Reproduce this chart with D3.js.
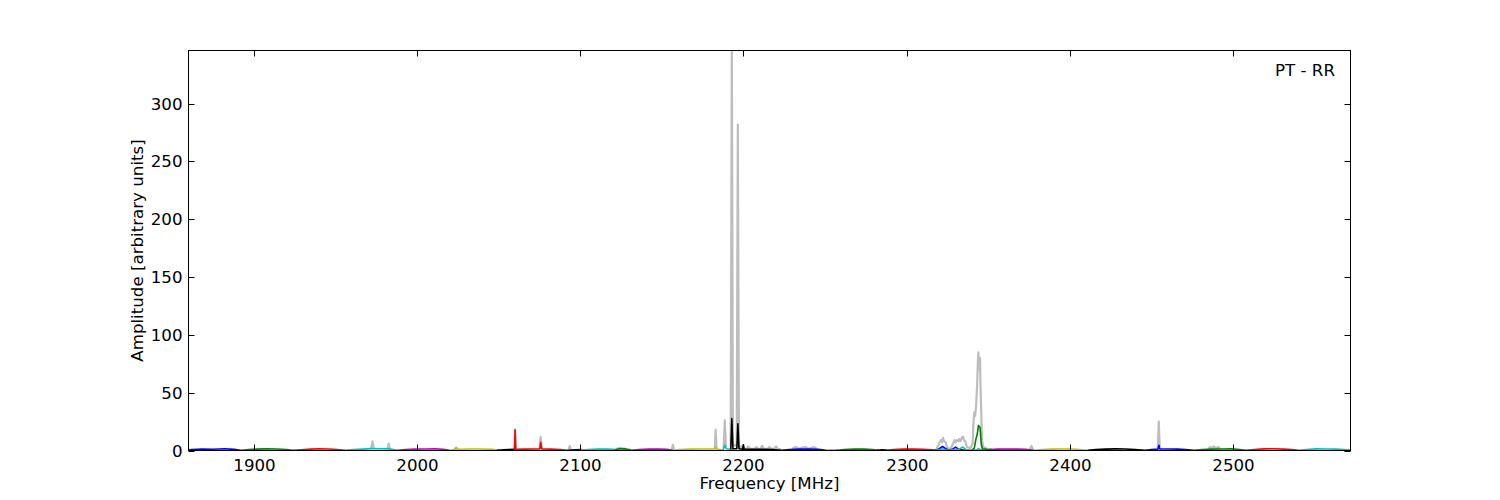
<!DOCTYPE html>
<html><head><meta charset="utf-8">
<script src="https://cdn.jsdelivr.net/npm/d3@7"></script>
<style>
body{margin:0;background:#fff;}
svg text{font-family:"DejaVu Sans",sans-serif;}
</style></head>
<body><svg id="c" width="1500" height="500"></svg>
<script>
// ---- data ----
const xTicks = [1900, 2000, 2100, 2200, 2300, 2400, 2500];
const yTicks = [0, 50, 100, 150, 200, 250, 300];
const xDomain = [1860, 2572];
const yDomain = [0, 346];
const panelLabel = "PT - RR";

// colour of each sub-band segment (drawing order)
const segmentColors = ["#0000ff","#008000","#ff0000","#00bfbf","#bf00bf","#bfbf00","#000000",
  "#ff0000","#0000ff","#00bfbf","#008000","#bf00bf","#bfbf00","#00bfbf","#000000",
  "#0000ff","#bfbf00","#008000","#000000","#ff0000","#0000ff","#00bfbf","#008000",
  "#bf00bf","#bfbf00","#000000","#0000ff","#008000","#ff0000","#00bfbf"];

// mean spectrum of each segment: [MHz, amplitude]
const segmentMean = [
  [[1855,0.2],[1862,0.9],[1868,1.3],[1875,1.1],[1882,1.5],[1888,1.0],[1892,0.1]],
  [[1892,0.1],[1897,0.8],[1902,1.2],[1908,1.4],[1914,1.3],[1920,0.9],[1924,0.1]],
  [[1924,0.1],[1929,0.7],[1935,1.2],[1940,1.5],[1946,1.3],[1951,0.9],[1956,0.1]],
  [[1956,0.1],[1961,0.8],[1967,1.2],[1972,1.6],[1978,1.5],[1983,1.4],[1988,0.1]],
  [[1988,0.1],[1993,0.8],[1999,1.2],[2005,1.3],[2011,1.5],[2016,1.0],[2020,0.1]],
  [[2020,0.1],[2023,0.9],[2024,2.0],[2025.5,1.1],[2032,1.3],[2040,1.3],[2046,1.0],[2051,0.1]],
  [[2049,0.1],[2053,0.6],[2056,0.9],[2059.5,1.0]],
  [[2059.3,0.3],[2059.8,0.9],[2060.1,18],[2060.5,1.0],[2066,1.2],[2075.2,1.3],[2075.8,7],[2076.4,1.3],[2082,1.2],[2088,0.8],[2092,0.1]],
  [[2092,0.1],[2096,0.7],[2101,0.9]],
  [[2100,0.3],[2105,0.9],[2111,1.2],[2117,1.3],[2122,0.9]],
  [[2121,0.5],[2124,1.5],[2127,1.4],[2131,0.6]],
  [[2131,0.2],[2136,0.9],[2142,1.2],[2148,1.3],[2153,1.1],[2157,0.2]],
  [[2156.5,0.2],[2161,0.8],[2168,1.2],[2175,1.3],[2182.5,1.3],[2183,3],[2183.5,1.3],[2188,0.3]],
  [[2187.5,0.3],[2188.6,4.5],[2189.5,1.5],[2192,1.2],[2194,0.3]],
  [[2192.3,1.0],[2192.9,27.6],[2193.6,1.5],[2196,1.5],[2196.6,23],[2197.3,1.5],[2199.5,1.2],[2200,5],[2200.5,1.2],[2206,1.0],[2212,1.0],[2218,0.8],[2223,0.2]],
  [[2223,0.2],[2228,0.8],[2234,1.2],[2240,1.3],[2246,1.0],[2251,0.2]],
  [[2250,0.2],[2254,0.6],[2258,0.4]],
  [[2257,0.2],[2262,0.9],[2268,1.2],[2274,1.3],[2279,0.9],[2283,0.2]],
  [[2282,0.2],[2285,0.5],[2288,0.3]],
  [[2287,0.2],[2292,0.9],[2298,1.2],[2304,1.3],[2310,1.1],[2316,0.6],[2320,0.1]],
  [[2318,0.1],[2320,1.5],[2322,3.5],[2324,1.5],[2326,0.3],[2328,1.0],[2330,3.0],[2332,1.0],[2336,0.2],[2338,0.1]],
  [[2318,0.1],[2320.5,0.8],[2322,1.6],[2323.5,0.6],[2326,0.2],[2330,0.8],[2332,1.0],[2334.5,3.0],[2336.5,0.8],[2340,0.2],[2343,0.6],[2344,1.6],[2345,0.8],[2348,0.4],[2350,0.3]],
  [[2340,0.3],[2341.5,2],[2342.5,10],[2343.3,14],[2344,21.6],[2345,20],[2345.8,5],[2346.5,1.5],[2349,1.2],[2352,1.0]],
  [[2351,0.8],[2356,1.2],[2362,1.3],[2368,1.2],[2373,1.0],[2378,0.2]],
  [[2378,0.2],[2383,0.9],[2389,1.2],[2395,1.3],[2401,1.3],[2406,0.9],[2411,0.1]],
  [[2411,0.1],[2416,0.8],[2422,1.2],[2428,1.4],[2434,1.3],[2440,0.9],[2446,0.1]],
  [[2446,0.1],[2450,0.8],[2454,1.2],[2454.6,4.5],[2455.2,1.3],[2460,1.3],[2466,1.2],[2471,0.8],[2476,0.1]],
  [[2476,0.1],[2481,0.8],[2487,1.2],[2493,1.3],[2499,1.4],[2504,0.9],[2508,0.1]],
  [[2508,0.1],[2513,0.9],[2519,1.4],[2525,1.5],[2531,1.2],[2536,0.8],[2540,0.1]],
  [[2540,0.1],[2545,0.9],[2551,1.4],[2557,1.3],[2563,1.2],[2568,0.8],[2575,0.2]]
];

// max-hold spectrum (grey), only where it rises above the means
const maxHold = [
  [[1971.8,1.6],[1972.8,7.8],[1973.6,1.6]],
  [[1982.0,1.6],[1982.7,6.0],[1983.4,1.6]],
  [[2023,1.2],[2024,2.6],[2025,1.2]],
  [[2059.6,1.0],[2060.1,18],[2060.6,1.0]],
  [[2075.0,1.5],[2075.8,11.5],[2076.6,1.5]],
  [[2093.0,1.0],[2093.6,4.0],[2094.2,1.0]],
  [[2122,1.3],[2124,2.2],[2126,1.8],[2128,1.4]],
  [[2156.2,1.0],[2156.8,5.0],[2157.4,1.0]],
  [[2182.5,1.5],[2183.0,18],[2183.5,1.5]],
  [[2187.9,2.0],[2188.6,26],[2189.3,3.0]],
  [[2192.2,3.0],[2192.9,346],[2193.6,5.0],[2195.9,4.0],[2196.6,282],[2197.3,3.0],[2198,1.5],[2199,4],[2200,1.5],[2202,1.5],[2203,3.5],[2204,1.5],[2207,1.5],[2208,3],[2209,1.5],[2210.5,1.5],[2211.5,4],[2212.5,1.5],[2215,1.5],[2216,3],[2217,1.5],[2219,1.5],[2220,3.5],[2221,1.5],[2223,1.2]],
  [[2230,1.5],[2232,3],[2234,1.5],[2236,2.5],[2238,3],[2240,1.5],[2243,3],[2245,1.5]],
  [[2318,0.5],[2320,6],[2321,9],[2321.6,7],[2322.3,11],[2323,8],[2324,7],[2325,2],[2327,1.5],[2328.5,6],[2329.3,9],[2330,7],[2330.8,9],[2331.5,8],[2332.3,10],[2333,8],[2333.8,11],[2334.5,12],[2335.2,9],[2336,8],[2337,3],[2339,2],[2340.5,6],[2341,25],[2341.5,33],[2342,30],[2342.5,37],[2343,50],[2343.3,60],[2343.7,78],[2344,85],[2344.4,70],[2344.7,78],[2345,80],[2345.3,55],[2345.6,40],[2346,20],[2346.3,8],[2347,3],[2349,2]],
  [[2375.5,1.0],[2376.5,4.0],[2377.5,1.0]],
  [[2453.9,2.0],[2454.5,25],[2455.1,3.0]],
  [[2485,1.5],[2486,3],[2487,2],[2488,3.5],[2489.5,2],[2491,3],[2492,1.5]]
];

// ---- drawing ----
const svg = d3.select("#c");
const m = {l:188.5, r:1350.5, t:50.5, b:450.5};
const x = d3.scaleLinear().domain(xDomain).range([m.l, m.r]);
const y = d3.scaleLinear().domain(yDomain).range([m.b, m.t]);

svg.append("defs").append("clipPath").attr("id","clip")
  .append("rect").attr("x",m.l).attr("y",m.t).attr("width",m.r-m.l).attr("height",m.b-m.t);

const line = d3.line().x(d=>x(d[0])).y(d=>y(d[1]));
const plot = svg.append("g").attr("clip-path","url(#clip)");

plot.selectAll("path.max").data(maxHold).enter().append("path")
  .attr("class","max").attr("d",line).attr("fill","none")
  .attr("stroke","#bdbdbd").attr("stroke-width",2.2).attr("stroke-linejoin","round");

plot.selectAll("path.mean").data(segmentMean).enter().append("path")
  .attr("class","mean").attr("d",line).attr("fill","none")
  .attr("stroke",(d,i)=>segmentColors[i]).attr("stroke-width",1.6).attr("stroke-linejoin","round");

// frame
svg.append("rect").attr("x",m.l).attr("y",m.t).attr("width",m.r-m.l).attr("height",m.b-m.t)
  .attr("fill","none").attr("stroke","#000").attr("stroke-width",1);

// axes (ticks inward, mirrored)
const fs = "16.67px";
const tl = 6;
const gx = svg.append("g");
xTicks.forEach(t=>{
  const px = Math.round(x(t))+0.5;
  gx.append("line").attr("x1",px).attr("x2",px).attr("y1",m.b).attr("y2",m.b-tl).attr("stroke","#000");
  gx.append("line").attr("x1",px).attr("x2",px).attr("y1",m.t).attr("y2",m.t+tl).attr("stroke","#000");
  gx.append("text").attr("x",px).attr("y",m.b+20).attr("text-anchor","middle").attr("font-size",fs).text(t);
});
const gy = svg.append("g");
yTicks.forEach(t=>{
  const py = Math.round(y(t))+0.5;
  gy.append("line").attr("x1",m.l).attr("x2",m.l+tl).attr("y1",py).attr("y2",py).attr("stroke","#000");
  gy.append("line").attr("x1",m.r).attr("x2",m.r-tl).attr("y1",py).attr("y2",py).attr("stroke","#000");
  gy.append("text").attr("x",m.l-6).attr("y",py).attr("dy","0.35em").attr("text-anchor","end").attr("font-size",fs).text(t);
});

svg.append("text").attr("x",(m.l+m.r)/2).attr("y",489).attr("text-anchor","middle").attr("font-size",fs).text("Frequency [MHz]");
svg.append("text").attr("transform",`translate(143,${(m.t+m.b)/2}) rotate(-90)`).attr("text-anchor","middle").attr("font-size",fs).text("Amplitude [arbitrary units]");
svg.append("text").attr("x",1335).attr("y",76).attr("text-anchor","end").attr("font-size",fs).text(panelLabel);
</script></body></html>
